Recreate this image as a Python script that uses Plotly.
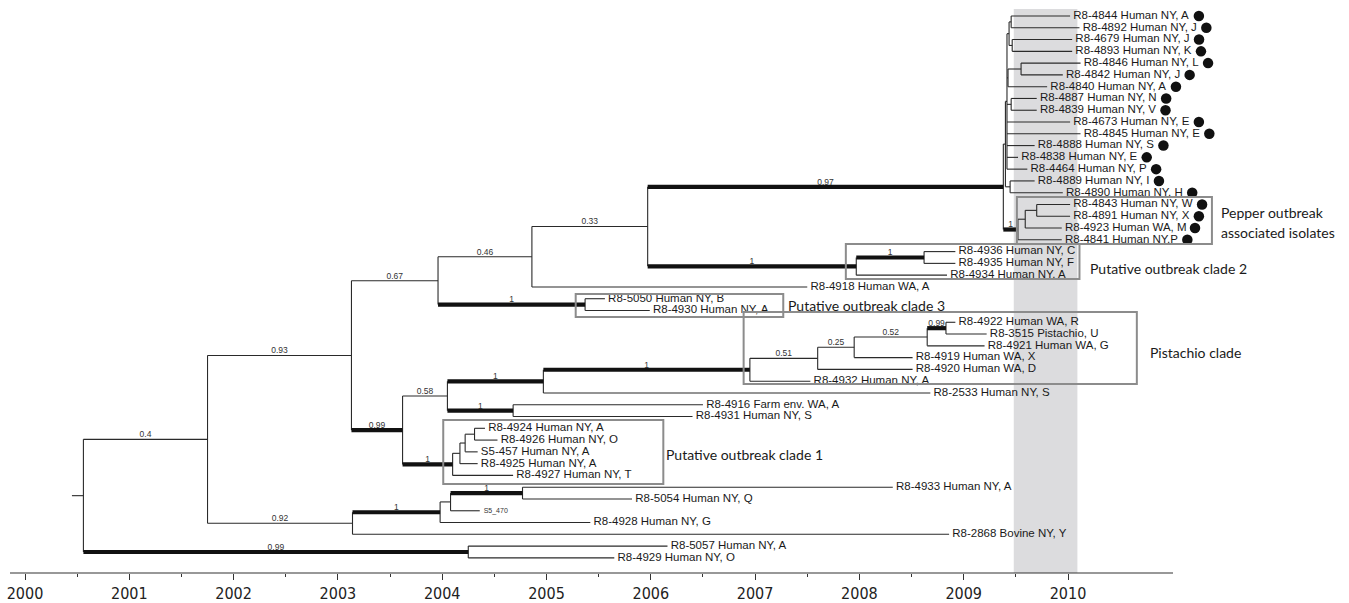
import plotly.graph_objects as go

# ---------------- data ----------------
tip_labels = [
    "R8-4844 Human NY, A", "R8-4892 Human NY, J", "R8-4679 Human NY, J", "R8-4893 Human NY, K",
    "R8-4846 Human NY, L", "R8-4842 Human NY, J", "R8-4840 Human NY, A", "R8-4887 Human NY, N",
    "R8-4839 Human NY, V", "R8-4673 Human NY, E", "R8-4845 Human NY, E", "R8-4888 Human NY, S",
    "R8-4838 Human NY, E", "R8-4464 Human NY, P", "R8-4889 Human NY, I", "R8-4890 Human NY, H",
    "R8-4843 Human NY, W", "R8-4891 Human NY, X", "R8-4923 Human WA, M", "R8-4841 Human NY,P",
    "R8-4936 Human NY, C", "R8-4935 Human NY, F", "R8-4934 Human NY, A", "R8-4918 Human WA, A",
    "R8-5050 Human NY, B", "R8-4930 Human NY, A", "R8-4922 Human WA, R", "R8-3515 Pistachio, U",
    "R8-4921 Human WA, G", "R8-4919 Human WA, X", "R8-4920 Human WA, D", "R8-4932 Human NY, A",
    "R8-2533 Human NY, S", "R8-4916 Farm env. WA, A", "R8-4931 Human NY, S", "R8-4924 Human NY, A",
    "R8-4926 Human NY, O", "S5-457 Human NY, A", "R8-4925 Human NY, A", "R8-4927 Human NY, T",
    "R8-4933 Human NY, A", "R8-5054 Human NY, Q", "S5_470", "R8-4928 Human NY, G",
    "R8-2868 Bovine NY, Y", "R8-5057 Human NY, A", "R8-4929 Human NY, O",
]
tip_dates = [
    2010.02, 2010.11, 2010.04, 2010.04, 2010.12, 2009.95, 2009.80, 2009.70,
    2009.70, 2010.02, 2010.12, 2009.68, 2009.52, 2009.61, 2009.68, 2009.95,
    2010.02, 2010.02, 2009.94, 2009.94,
    2008.92, 2008.92, 2008.84, 2007.50, 2005.56, 2005.99, 2008.92, 2009.22,
    2009.20, 2008.51, 2008.51, 2007.53, 2008.68, 2006.50, 2006.40, 2004.41,
    2004.53, 2004.34, 2004.34, 2004.68, 2008.32, 2005.82, 2004.36, 2005.42,
    2008.86, 2006.16, 2005.65,
]
tip_parents = [
    "n1", "n1", "n2", "n2", "n4", "n4", "n5", "n6", "n6", "P1", "P1", "P1", "P1", "P1", "C", "C",
    "B3", "B3", "B2", "B",
    "Nc2i", "Nc2i", "Nc2", "N46", "Nc3", "Nc3", "N99b", "N99b", "N52", "N25", "N51", "Npist",
    "N1a", "N1b", "N1b", "Nc1c", "Nc1c", "Nc1b", "Nc1a", "Nc1", "N1d", "N1d", "Ns", "N1c",
    "N92", "N99c", "N99c",
]
pepper_isolates = [
    "R8-4844", "R8-4892", "R8-4679", "R8-4893", "R8-4846", "R8-4842", "R8-4840", "R8-4887",
    "R8-4839", "R8-4673", "R8-4845", "R8-4888", "R8-4838", "R8-4464", "R8-4889", "R8-4890",
    "R8-4843", "R8-4891", "R8-4923", "R8-4841",
]

node_names = [
    "root", "N04", "N93", "N67", "N46", "N33", "N97", "U", "P1", "n3", "n1", "n2", "n5", "n4",
    "n6", "C", "B", "B2", "B3", "Nc2", "Nc2i", "Nc3", "N99a", "N58", "N1a", "Npist", "N51",
    "N25", "N52", "N99b", "N1b", "Nc1", "Nc1a", "Nc1b", "Nc1c", "N92", "N1c", "Ns", "N1d", "N99c",
]
node_parents = [
    None, "root", "N04", "N93", "N67", "N46", "N33", "N97", "U", "P1", "n3", "n3", "P1", "n5",
    "P1", "U", "N97", "B", "B2", "N33", "Nc2", "N67", "N93", "N99a", "N58", "N1a", "Npist",
    "N51", "N25", "N52", "N58", "N99a", "Nc1", "Nc1a", "Nc1b", "N04", "N92", "N1c", "Ns", "root",
]
node_dates = [
    2000.56, 2001.75, 2003.13, 2003.96, 2004.86, 2005.97, 2009.38, 2009.40, 2009.415, 2009.435,
    2009.455, 2009.465, 2009.425, 2009.55, 2009.455, 2009.445, 2009.52, 2009.59, 2009.70,
    2007.97, 2008.62, 2005.37, 2003.62, 2004.05, 2004.97, 2006.95, 2007.60, 2007.95, 2008.65,
    2008.83, 2004.68, 2004.10, 2004.17, 2004.22, 2004.31, 2003.14, 2003.98, 2004.08, 2004.77,
    2004.25,
]
node_support = [
    None, 0.4, 0.93, 0.67, 0.46, 0.33, 0.97, None, None, None, None, None, None, None,
    None, None, 1, None, None, 1, 1, 1, 0.99, 0.58, 1, 1, 0.51,
    0.25, 0.52, 0.99, 1, 1, None, None, None, 0.92, 1, None, 1, 0.99,
]
root_stub_date = 2000.45

year_ticks = [2000, 2001, 2002, 2003, 2004, 2005, 2006, 2007, 2008, 2009, 2010]
half_year_ticks = [2000.5, 2001.5, 2002.5, 2003.5, 2004.5, 2005.5, 2006.5, 2007.5, 2008.5, 2009.5]

outbreak_period = (2009.48, 2010.09)

clade_boxes = [  # (x0, x1, y0, y1) in years / tip rows
    (2009.51, 2011.38, 15.37, 19.35),
    (2007.87, 2010.11, 19.35, 22.33),
    (2005.28, 2007.27, 23.60, 25.55),
    (2006.89, 2010.66, 25.13, 31.24),
    (2004.01, 2006.12, 34.30, 39.73),
]
clade_labels = [
    ("Pepper outbreak", 2011.45, 16.70),
    ("associated isolates", 2011.45, 18.40),
    ("Putative outbreak clade 2", 2010.19, 21.40),
    ("Putative outbreak clade 3", 2007.30, 24.55),
    ("Pistachio clade", 2010.77, 28.60),
    ("Putative outbreak clade 1", 2006.13, 37.25),
]

# ---------------- geometry from the tree ----------------
ndate = dict(zip(node_names, node_dates))
nparent = dict(zip(node_names, node_parents))
nsupport = dict(zip(node_names, node_support))
children = {n: [] for n in node_names}
for i, p in enumerate(tip_parents):
    children[p].append(("tip", i))
for n, p in zip(node_names, node_parents):
    if p is not None:
        children[p].append(("node", n))

ypos = {}


def node_y(n):
    ys = [c if k == "tip" else node_y(c) for k, c in children[n]]
    ypos[n] = (min(ys) + max(ys)) / 2
    return ypos[n]


node_y("root")

thin_x, thin_y, thick_x, thick_y = [], [], [], []
sup_x, sup_y, sup_t = [], [], []

thin_x += [root_stub_date, ndate["root"], None]
thin_y += [ypos["root"], ypos["root"], None]

for n in node_names:
    p = nparent[n]
    if p is not None:
        s = nsupport[n]
        if s is not None and s >= 0.95:
            thick_x += [ndate[p], ndate[n], None]
            thick_y += [ypos[n], ypos[n], None]
        else:
            thin_x += [ndate[p], ndate[n], None]
            thin_y += [ypos[n], ypos[n], None]
        if s is not None:
            sup_x.append((ndate[p] + ndate[n]) / 2)
            sup_y.append(ypos[n])
            sup_t.append(f"{s:g}")
    ys = [c if k == "tip" else ypos[c] for k, c in children[n]]
    thin_x += [ndate[n], ndate[n], None]
    thin_y += [min(ys), max(ys), None]

for i, (d, p) in enumerate(zip(tip_dates, tip_parents)):
    thin_x += [ndate[p], d, None]
    thin_y += [i, i, None]

# ---------------- figure scales ----------------
W, H = 1349, 603
PX_PER_YEAR = 104.3
X0 = 2000 - 25 / PX_PER_YEAR
X1 = X0 + W / PX_PER_YEAR
ROW = 11.78
Y_TOP = -16 / ROW
Y_BOT = (573 - 16) / ROW
TIP_SIZE = 11.5

# Arial / Liberation Sans advance widths (1/1000 em) to put the marker dot after each label
ADV = {" ": 278, "\u00a0": 278, ",": 278, "-": 333, ".": 278, "_": 556,
       "A": 667, "B": 667, "C": 722, "D": 722, "E": 667, "F": 611, "G": 778, "H": 722,
       "I": 278, "J": 500, "K": 667, "L": 556, "M": 833, "N": 722, "O": 778, "P": 667,
       "Q": 778, "R": 722, "S": 667, "T": 611, "U": 722, "V": 667, "W": 944, "X": 667,
       "Y": 667, "a": 556, "m": 833, "n": 556, "u": 556}


def text_px(s, size):
    return sum(ADV.get(ch, 556) for ch in s) / 1000 * size


norm_x, norm_y, norm_t, small_x, small_y, small_t = [], [], [], [], [], []
dot_x, dot_y = [], []
for i, (lab, d) in enumerate(zip(tip_labels, tip_dates)):
    if lab == "S5_470":
        small_x.append(d); small_y.append(i); small_t.append("\u00a0\u00a0" + lab)
        continue
    txt = "\u00a0" + lab
    norm_x.append(d); norm_y.append(i); norm_t.append(txt)
    if lab.split(" ")[0] in pepper_isolates:
        dot_x.append(d + (text_px(txt, TIP_SIZE) + 8) / PX_PER_YEAR)
        dot_y.append(i)

TIPFONT = dict(family="Liberation Sans, Arial, sans-serif", size=TIP_SIZE, color="#1a1a1a")

fig = go.Figure()
fig.add_trace(go.Scatter(x=thin_x, y=thin_y, mode="lines",
                         line=dict(color="#2a2a2a", width=1.1), hoverinfo="skip"))
fig.add_trace(go.Scatter(x=thick_x, y=thick_y, mode="lines",
                         line=dict(color="#111111", width=4.2), hoverinfo="skip"))
fig.add_trace(go.Scatter(x=norm_x, y=norm_y, mode="text", text=norm_t,
                         textposition="middle right", textfont=TIPFONT,
                         cliponaxis=False, hoverinfo="skip"))
fig.add_trace(go.Scatter(x=dot_x, y=dot_y, mode="markers",
                         marker=dict(symbol="circle", size=10.5, color="#111111",
                                     line=dict(width=0)),
                         cliponaxis=False, hoverinfo="skip"))
fig.add_trace(go.Scatter(x=small_x, y=small_y, mode="text", text=small_t,
                         textposition="middle right",
                         textfont=dict(family="Liberation Sans Narrow, Liberation Sans, sans-serif",
                                       size=7, color="#333"),
                         cliponaxis=False, hoverinfo="skip"))
fig.add_trace(go.Scatter(x=sup_x, y=sup_y, mode="text", text=sup_t,
                         textposition="top center",
                         textfont=dict(family="Liberation Sans Narrow, Liberation Sans, sans-serif",
                                       size=8.5, color="#333"),
                         cliponaxis=False, hoverinfo="skip"))

shapes = [
    dict(type="rect", xref="x", yref="paper", x0=outbreak_period[0], x1=outbreak_period[1],
         y0=0, y1=1 - 9 / 573, fillcolor="#dcdcde", line=dict(width=0), layer="below"),
    dict(type="line", xref="x", yref="paper",
         x0=2000 - 15 / PX_PER_YEAR, x1=2000 + 1148 / PX_PER_YEAR, y0=0, y1=0,
         line=dict(color="#333", width=1.2)),
]
for (bx0, bx1, by0, by1) in clade_boxes:
    shapes.append(dict(type="rect", xref="x", yref="y", x0=bx0, x1=bx1, y0=by0, y1=by1,
                       line=dict(color="#8c8c8c", width=2), fillcolor="rgba(0,0,0,0)"))

annotations = [
    dict(x=x, y=y, xref="x", yref="y", text=t, showarrow=False, xanchor="left",
         yanchor="middle", font=dict(family="Lato, Open Sans, sans-serif", size=14, color="#1a1a1a"))
    for t, x, y in clade_labels
]

fig.update_layout(
    width=W, height=H, margin=dict(l=0, r=0, t=0, b=30),
    paper_bgcolor="white", plot_bgcolor="white", showlegend=False,
    shapes=shapes, annotations=annotations,
    xaxis=dict(range=[X0, X1], showgrid=False, zeroline=False, showline=False,
               tickmode="array", tickvals=year_ticks, ticktext=[str(v) for v in year_ticks],
               ticks="outside", ticklen=6, tickwidth=1, tickcolor="#333",
               tickfont=dict(family="Liberation Sans Narrow, DejaVu Sans Condensed, Arial Narrow, sans-serif",
                             size=16, color="#222"),
               minor=dict(tickmode="array", tickvals=half_year_ticks, ticks="outside",
                          ticklen=3, tickwidth=1, tickcolor="#333", showgrid=False),
               fixedrange=True),
    yaxis=dict(range=[Y_BOT, Y_TOP], visible=False, fixedrange=True),
)

fig.write_html("out.html", config={"displayModeBar": False},
               post_script="document.body.style.margin='0px';document.body.style.overflow='hidden';")
